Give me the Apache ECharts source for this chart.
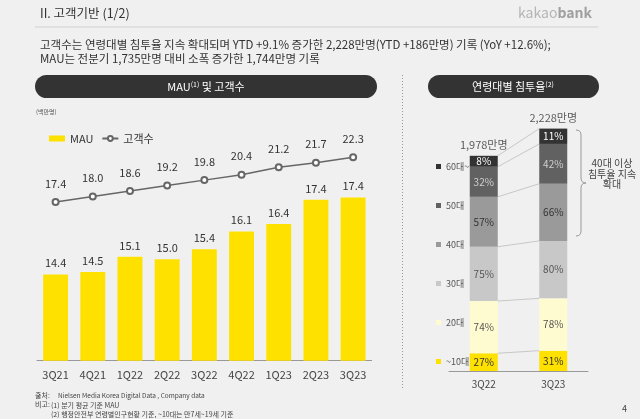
<!DOCTYPE html>
<html><head><meta charset="utf-8">
<script src="https://cdn.jsdelivr.net/npm/echarts@6/dist/echarts.min.js"></script>
<style>html,body{margin:0;padding:0;background:#f0f0f0;}#c{width:640px;height:419px;}</style>
</head><body><div id="c"></div>
<script>
// ---------- DATA ----------
const quarters = ['3Q21','4Q21','1Q22','2Q22','3Q22','4Q22','1Q23','2Q23','3Q23'];
const mauValues = [14.4, 14.5, 15.1, 15.0, 15.4, 16.1, 16.4, 17.35, 17.44];
const customerValues = [17.4, 18.0, 18.6, 19.2, 19.8, 20.4, 21.2, 21.7, 22.3];

const ageQuarters = ['3Q22','3Q23'];
const ageGroups = ['~10대','20대','30대','40대','50대','60대~'];
const ageCounts3Q22 = [163, 480, 499, 459, 276, 101];   // 만명 (segment size)
const ageCounts3Q23 = [187, 481, 528, 525, 366, 141];
const penetration3Q22 = [27, 74, 75, 57, 32, 8];        // %
const penetration3Q23 = [31, 78, 80, 66, 42, 11];
const totalCustomers = [1978, 2228];                      // 만명

// ---------- STYLE ----------
const FONT = "'Noto Sans CJK KR','Noto Sans',sans-serif";
const ageColors = ['#ffe100','#fffbd0','#c8c8c8','#9a9a9a','#616161','#333333'];
const ageLabelColors = ['#333','#555','#555','#333','#d0d0d0','#ffffff'];
const BAR_W = 28;

const chart = echarts.init(document.getElementById('c'), null, {renderer:'canvas'});

// cumulative boundaries for connectors
const cum22 = [], cum23 = [];
let a = 0, b = 0;
for (let i = 0; i < ageGroups.length; i++) { a += ageCounts3Q22[i]; b += ageCounts3Q23[i]; cum22.push(a); cum23.push(b); }
const connectorData = cum22.map((v, i) => [0, v, cum23[i]]);

const ageSeries = ageGroups.map((g, i) => ({
  name: g, type: 'bar', stack: 'age', xAxisIndex: 1, yAxisIndex: 2,
  barWidth: BAR_W,
  itemStyle: { color: ageColors[i] },
  label: {
    show: true, position: 'inside', fontFamily: FONT, fontSize: 10, color: ageLabelColors[i],
    formatter: p => (p.dataIndex === 0 ? penetration3Q22[i] : penetration3Q23[i]) + '%'
  },
  emphasis: { disabled: true },
  data: [ageCounts3Q22[i], ageCounts3Q23[i]]
}));

const braceStyle = { stroke: '#999', fill: null, lineWidth: 1 };

const option = {
  backgroundColor: '#f0f0f0',
  animation: false,
  textStyle: { fontFamily: FONT },
  graphic: [
    { type: 'text', x: 40, y: 7, style: { text: 'II. 고객기반 (1/2)', font: '12.5px ' + FONT, fill: '#333' } },
    { type: 'text', x: 518, y: 6, style: { text: '{a|kakao}{b|bank}', rich: { a: { font: '14px ' + FONT, fill: '#b5b5b5' }, b: { font: 'bold 14px ' + FONT, fill: '#a0a0a0' } } } },
    { type: 'line', shape: { x1: 35, y1: 27, x2: 598, y2: 27 }, style: { stroke: '#d0d0d0', lineWidth: 1 } },
    { type: 'text', x: 40, y: 37, style: { text: '고객수는 연령대별 침투율 지속 확대되며 YTD +9.1% 증가한 2,228만명(YTD +186만명) 기록 (YoY +12.6%);\nMAU는 전분기 1,735만명 대비 소폭 증가한 1,744만명 기록', font: '11.5px ' + FONT, fill: '#333', lineHeight: 14.5 } },
    // pills
    { type: 'rect', shape: { x: 35, y: 75, width: 342, height: 23, r: 11.5 }, style: { fill: '#333' } },
    { type: 'text', x: 206, y: 87, style: { text: 'MAU{s|(1)} 및 고객수', rich: { s: { font: '7px ' + FONT, fill: '#fff', padding: [0, 0, 6, 0] } }, font: '11px ' + FONT, fill: '#fff', align: 'center', verticalAlign: 'middle' } },
    { type: 'rect', shape: { x: 428, y: 75, width: 171, height: 23, r: 11.5 }, style: { fill: '#333' } },
    { type: 'text', x: 513, y: 87, style: { text: '연령대별 침투율{s|(2)}', rich: { s: { font: '7px ' + FONT, fill: '#fff', padding: [0, 0, 6, 0] } }, font: '11px ' + FONT, fill: '#fff', align: 'center', verticalAlign: 'middle' } },
    { type: 'text', x: 36, y: 109, style: { text: '(백만명)', font: '6px ' + FONT, fill: '#555' } },
    // separator
    { type: 'line', shape: { x1: 402.5, y1: 75, x2: 402.5, y2: 390 }, style: { stroke: '#999', lineWidth: 1, lineDash: [1, 2] } },
    // brace
    { type: 'bezierCurve', shape: { x1: 576, y1: 130, cpx1: 581, cpy1: 130, x2: 581, y2: 135 }, style: braceStyle },
    { type: 'line', shape: { x1: 581, y1: 135, x2: 581, y2: 178 }, style: braceStyle },
    { type: 'bezierCurve', shape: { x1: 581, y1: 178, cpx1: 581, cpy1: 183, x2: 586, y2: 183 }, style: braceStyle },
    { type: 'bezierCurve', shape: { x1: 586, y1: 183, cpx1: 581, cpy1: 183, x2: 581, y2: 188 }, style: braceStyle },
    { type: 'line', shape: { x1: 581, y1: 188, x2: 581, y2: 231 }, style: braceStyle },
    { type: 'bezierCurve', shape: { x1: 581, y1: 231, cpx1: 581, cpy1: 236, x2: 576, y2: 236 }, style: braceStyle },
    { type: 'text', x: 612, y: 174, style: { text: '40대 이상\n침투율 지속\n확대', font: '10px ' + FONT, fill: '#444', align: 'center', verticalAlign: 'middle', lineHeight: 10.5 } },
    // footnotes
    { type: 'text', x: 35, y: 392, style: { text: '출처:', font: '7px ' + FONT, fill: '#444' } },
    { type: 'text', x: 58, y: 392, style: { text: 'Nielsen Media Korea Digital Data , Company data', font: '6.5px ' + FONT, fill: '#444' } },
    { type: 'text', x: 35, y: 400.5, style: { text: '비고:', font: '7px ' + FONT, fill: '#444' } },
    { type: 'text', x: 51, y: 400.5, style: { text: '(1) 분기 평균 기준 MAU\n(2) 행정안전부 연령별인구현황 기준, ~10대는 만7세~19세 기준', font: '7px ' + FONT, fill: '#444', lineHeight: 9 } },
    { type: 'text', x: 622, y: 404, style: { text: '4', font: '9px ' + FONT, fill: '#444' } }
  ],
  legend: [
    {
      left: 44, top: 128, itemWidth: 16, itemHeight: 6, itemGap: 8,
      textStyle: { fontFamily: FONT, fontSize: 11, color: '#333' },
      data: [{ name: 'MAU', icon: 'rect' }, { name: '고객수' }]
    },
    {
      orient: 'vertical', left: 431, top: 155.5, itemWidth: 5, itemHeight: 5, itemGap: 27,
      textStyle: { fontFamily: FONT, fontSize: 9, color: '#555', lineHeight: 12 },
      icon: 'rect',
      data: ageGroups.slice().reverse()
    }
  ],
  grid: [
    { left: 37, right: 268.3, top: 132.7, bottom: 58.3 },
    { left: 449, right: 52, top: 99, bottom: 48 }
  ],
  xAxis: [
    { type: 'category', gridIndex: 0, data: quarters,
      axisLine: { lineStyle: { color: '#999' } }, axisTick: { show: false },
      axisLabel: { fontFamily: FONT, fontSize: 11, color: '#444', margin: 9 } },
    { type: 'category', gridIndex: 1, data: ageQuarters,
      axisLine: { lineStyle: { color: '#999' } }, axisTick: { show: false },
      axisLabel: { fontFamily: FONT, fontSize: 10, color: '#444', margin: 8 } }
  ],
  yAxis: [
    { type: 'value', gridIndex: 0, min: 11, max: 20, show: false, splitLine: { show: false } },
    { type: 'value', gridIndex: 0, min: 0, max: 25, show: false, splitLine: { show: false } },
    { type: 'value', gridIndex: 1, min: 0, max: 2500, show: false, splitLine: { show: false } }
  ],
  series: [
    {
      name: 'MAU', type: 'bar', xAxisIndex: 0, yAxisIndex: 0, barCategoryGap: '33%',
      itemStyle: { color: '#ffe100' },
      label: { show: true, position: 'top', distance: 6, fontFamily: FONT, fontSize: 11, color: '#333', formatter: p => p.value.toFixed(1) },
      data: mauValues
    },
    {
      name: '고객수', type: 'line', xAxisIndex: 0, yAxisIndex: 1,
      symbol: 'emptyCircle', symbolSize: 6, clip: false,
      lineStyle: { color: '#666', width: 1.5 },
      itemStyle: { color: '#666', borderWidth: 1.5 },
      label: { show: true, position: 'top', distance: 9, fontFamily: FONT, fontSize: 11, color: '#333', formatter: p => p.value.toFixed(1) },
      data: customerValues
    },
    ...ageSeries,
    {
      name: 'total', type: 'scatter', xAxisIndex: 1, yAxisIndex: 2, symbolSize: 0, silent: true,
      label: { show: true, position: 'top', distance: 5, fontFamily: FONT, fontSize: 11, color: '#333',
        formatter: p => p.value[1].toLocaleString('en-US') + '만명' },
      data: totalCustomers.map((t, i) => [i, t])
    },
    {
      name: 'connector', type: 'custom', xAxisIndex: 1, yAxisIndex: 2, silent: true, z: 1,
      encode: { x: 0, y: 1 },
      renderItem: (params, api) => {
        const p0 = api.coord([0, api.value(1)]);
        const p1 = api.coord([1, api.value(2)]);
        return { type: 'line', shape: { x1: p0[0] + BAR_W / 2, y1: p0[1], x2: p1[0] - BAR_W / 2, y2: p1[1] },
          style: { stroke: '#c8c8c8', lineWidth: 1 } };
      },
      data: connectorData
    }
  ]
};
chart.setOption(option);
</script>
</body></html>
